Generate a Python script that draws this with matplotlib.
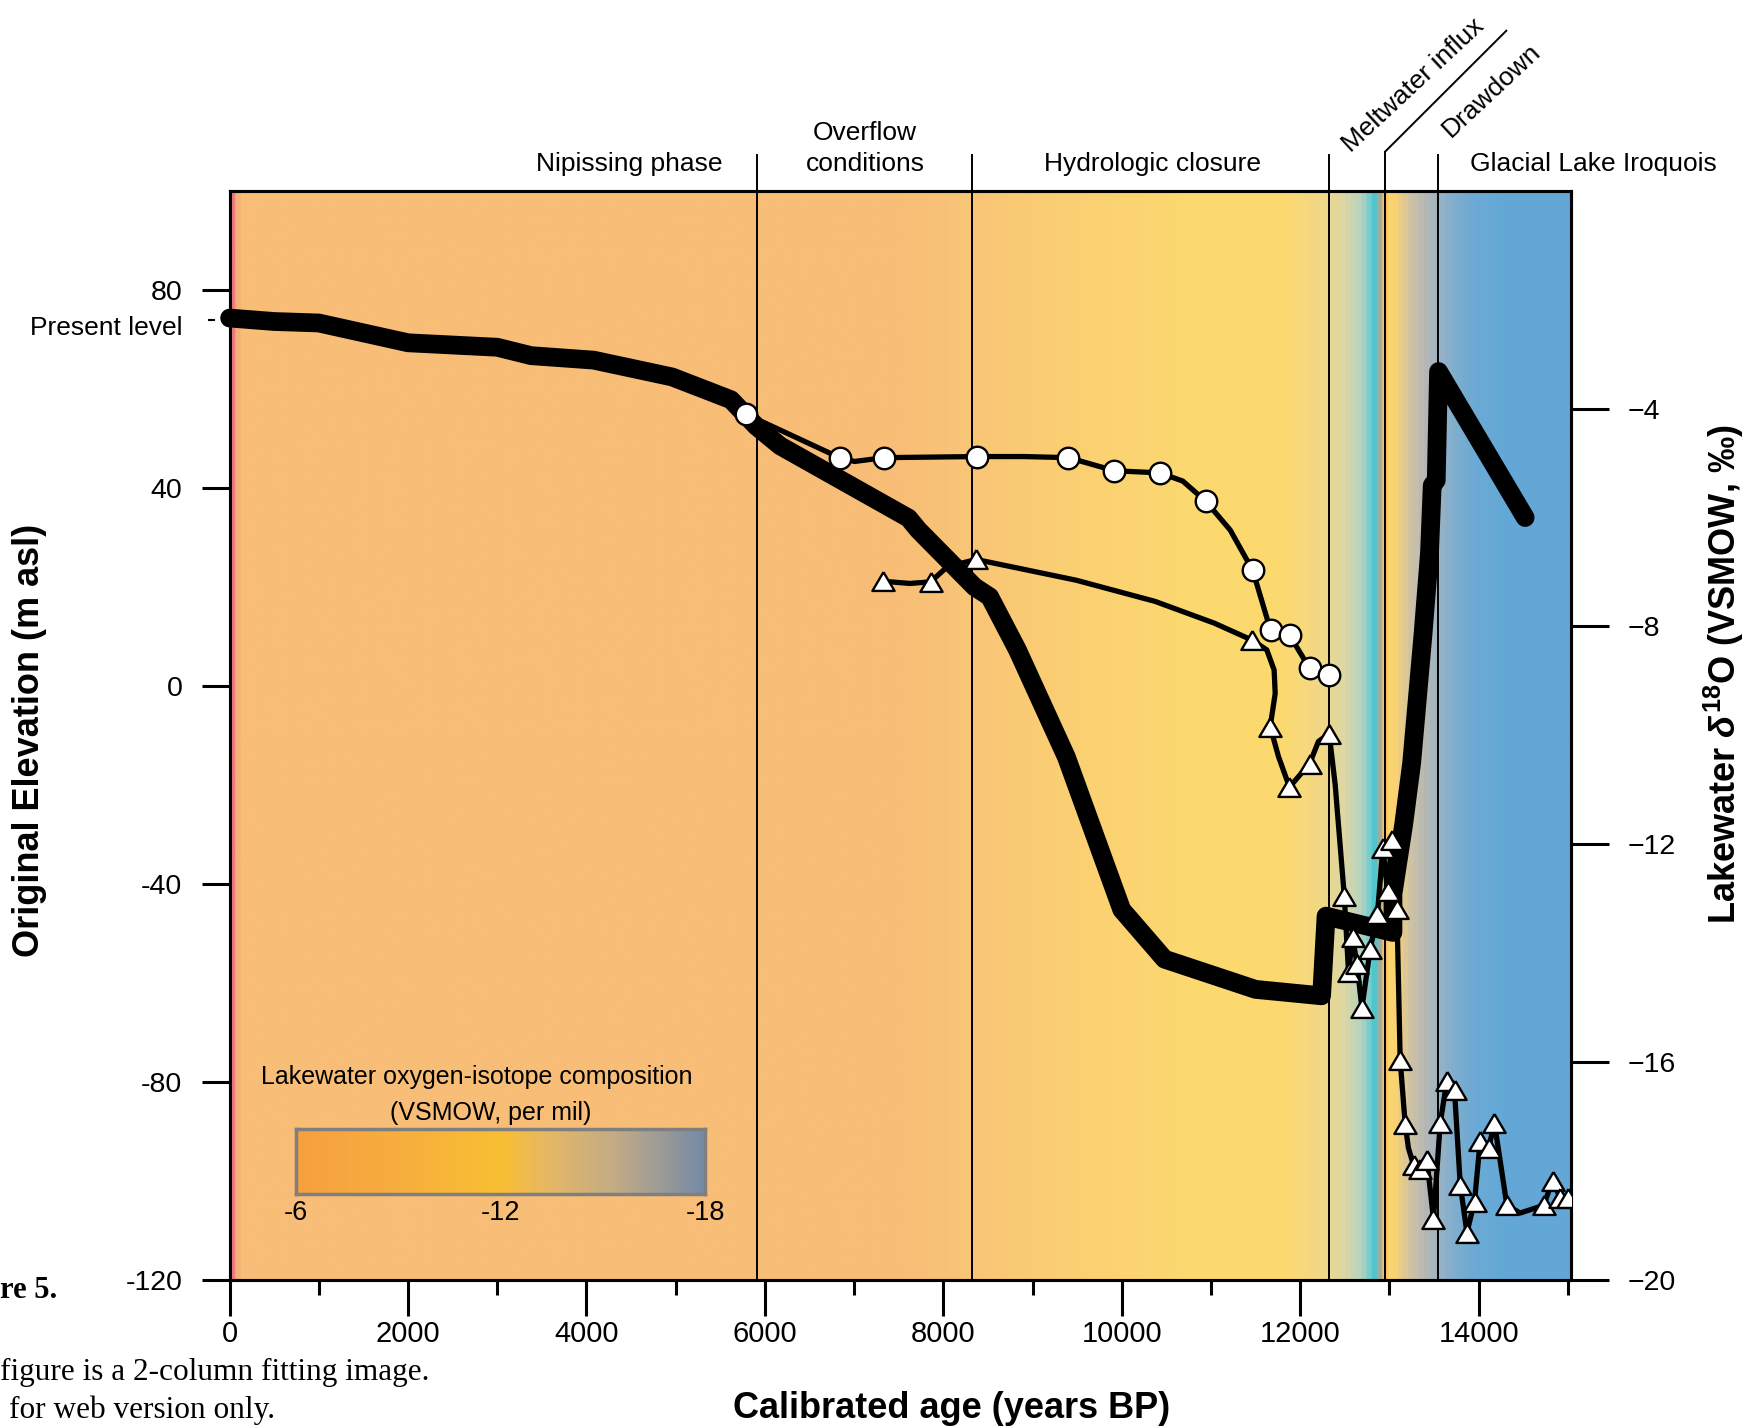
import numpy as np
import matplotlib
matplotlib.use('Agg')
import matplotlib.pyplot as plt
from matplotlib.colors import LinearSegmentedColormap

plt.rcParams['font.family'] = ['Liberation Sans', 'DejaVu Sans']
plt.rcParams['mathtext.fontset'] = 'custom'
plt.rcParams['mathtext.rm'] = 'Liberation Sans:bold'
plt.rcParams['mathtext.it'] = 'Liberation Sans:italic:bold'
plt.rcParams['mathtext.bf'] = 'Liberation Sans:bold'

# ---------------- data ----------------
# Lake level (thick line), original elevation (m asl)
level_age = [0, 500, 1000, 2000, 3000, 3380, 4080, 4960, 5620, 5900, 6170, 7610, 7720,
             8350, 8520, 8830, 9380, 10000, 10480, 11500, 12240, 12290, 13040, 13040,
             13160, 13250, 13375, 13450, 13480, 13525, 13551, 14522]
level_elev = [74.3, 73.6, 73.3, 69.3, 68.4, 66.7, 65.8, 62.4, 57.8, 52.5, 48.5, 33.9, 31.5,
              20.0, 18.0, 7.3, -14.4, -45.2, -55.2, -61.3, -62.6, -46.5, -49.8, -42.0,
              -28.0, -15.5, 10.0, 27.0, 40.5, 41.5, 63.5, 34.0]

# Lakewater d18O, circles (measured points)
circ_age = [5786, 6837, 7338, 8376, 9403, 9916, 10429, 10942, 11468, 11668, 11881, 12106, 12319]
circ_d18o = [-4.10, -4.90, -4.90, -4.88, -4.90, -5.14, -5.18, -5.70, -6.97, -8.07, -8.16, -8.77, -8.89]
# connecting curve through the circles
circ_line_age = [5786, 6837, 7005, 7338, 8376, 8900, 9403, 9916, 10429, 10684, 10942, 11216,
                 11468, 11668, 11881, 12106, 12319]
circ_line_d18o = [-4.10, -4.90, -4.97, -4.90, -4.88, -4.88, -4.90, -5.14, -5.18, -5.33, -5.70,
                  -6.23, -6.97, -8.07, -8.16, -8.77, -8.89]

# Lakewater d18O, triangles (measured points)
tri_age = [7329, 7857, 8370, 11460, 11664, 11880, 12105, 12325, 12494, 12542, 12587, 12636,
           12692, 12785, 12866, 12927, 12979, 13028, 13084, 13121, 13177, 13271, 13346, 13420,
           13494, 13570, 13644, 13730, 13794, 13869, 13954, 14018, 14111, 14178, 14317, 14728,
           14829, 14915, 14997]
tri_d18o = [-7.17, -7.18, -6.77, -8.25, -9.84, -10.95, -10.52, -9.97, -12.94, -14.35, -13.70,
            -14.19, -15.01, -13.92, -13.28, -12.07, -12.85, -11.92, -13.18, -15.96, -17.14,
            -17.89, -17.96, -17.79, -18.88, -17.12, -16.34, -16.52, -18.25, -19.13, -18.56,
            -17.44, -17.58, -17.12, -18.63, -18.63, -18.18, -18.49, -18.49]
# connecting curve through the triangles
tri_line_age = [7329, 7626, 7857, 8047, 8370, 9488, 10375, 11039, 11460, 11626, 11708, 11720,
                11664, 11757, 11880, 12105, 12205, 12325, 12392, 12494, 12542, 12587, 12636,
                12692, 12785, 12866, 12927, 12979, 13028, 13084, 13121, 13177, 13214, 13271,
                13346, 13420, 13494, 13570, 13644, 13730, 13794, 13869, 13954, 14018, 14111,
                14178, 14317, 14466, 14728, 14829, 14915, 14997]
tri_line_d18o = [-7.17, -7.21, -7.18, -6.90, -6.77, -7.15, -7.54, -7.94, -8.25, -8.43, -8.80,
                 -9.23, -9.84, -10.39, -10.95, -10.52, -10.11, -9.97, -10.90, -12.94, -14.35,
                 -13.70, -14.19, -15.01, -13.92, -13.28, -12.07, -12.85, -11.92, -13.18,
                 -15.96, -17.14, -17.58, -17.89, -17.96, -17.79, -18.88, -17.12, -16.34,
                 -16.52, -18.25, -19.13, -18.56, -17.44, -17.58, -17.12, -18.63, -18.77,
                 -18.63, -18.18, -18.49, -18.49]

# phase boundaries (years BP)
phase_bounds = [5906, 8326, 12320, 12953, 13540]

# background: lakewater isotope shading along the age axis
bg_age = [0, 45, 90, 7500, 8400, 9500, 10800, 11800, 12250, 12500, 12700, 12820, 12850,
          12880, 12905, 12925, 12950, 13000, 13080, 13250, 13450, 13550, 13700, 13950,
          14300, 15030]
bg_color = ['#EE7C80', '#F6AC7A', '#F8BD77', '#F8BE77', '#F9C676', '#FBD073', '#FCD970',
            '#FDDA6F', '#F2D886', '#DDD7A2', '#B7D4C0', '#62CCD2', '#4DC6CC', '#78B3B4',
            '#8FB0AC', '#F1A35E', '#F6B565', '#FDD56E', '#FBD371', '#CFC3A6', '#B1B6B6',
            '#A1B4C2', '#86AFCC', '#6DAAD4', '#64A8D7', '#63A7D6']

# legend colour bar
legend_vals = [-6, -12, -18]
legend_pos = [0.0, 0.25, 0.5, 0.62, 0.78, 0.9, 1.0]
legend_colors = ['#F6A03F', '#F7AE3E', '#F9BF33', '#E4B766', '#C2AB86', '#9A9A99', '#7389A6']

x_ticks = [0, 2000, 4000, 6000, 8000, 10000, 12000, 14000]
x_minor = [1000, 3000, 5000, 7000, 9000, 11000, 13000, 15000]
elev_ticks = [80, 40, 0, -40, -80, -120]
elev_tick_labels = ['80', '40', '0', '-40', '-80', '-120']
d18o_ticks = [-4, -8, -12, -16, -20]
d18o_tick_labels = ['\u22124', '\u22128', '\u221212', '\u221216', '\u221220']
present_level = 74

# ---------------- figure ----------------
W, H = 1750, 1428
fig = plt.figure(figsize=(17.5, 14.28), dpi=100)


def fx(X):
    return X / W


def fy(Y):
    return 1 - Y / H


L, R, T, B = 229.6, 1570.5, 190.8, 1280.0
XMAX = 15030
ax = fig.add_axes([fx(L), fy(B), (R - L) / W, (B - T) / H])

bg_cmap = LinearSegmentedColormap.from_list(
    'bg', list(zip(np.array(bg_age) / XMAX, bg_color)))
ax.imshow(np.linspace(0, 1, 3006)[None, :], cmap=bg_cmap, aspect='auto',
          extent=[0, XMAX, -120, 100], interpolation='bilinear', zorder=0)

ax2 = ax.twinx()

xt = ax.get_xaxis_transform()
for xb in phase_bounds:
    ax.axvline(xb, color='k', lw=1.4, zorder=1)
    top = 1.036 if xb == 12953 else 1.033
    ax.plot([xb, xb], [1.0, top], transform=xt, color='k', lw=1.4, clip_on=False)
ax.plot([12953, 14311], [1.036, 1.147], transform=xt, color='k', lw=1.4, clip_on=False)

# present-level tick
ax.plot([-230, -170], [present_level, present_level], color='k', lw=1.5, clip_on=False)

# isotope curves
ax2.plot(circ_line_age, circ_line_d18o, color='k', lw=3.8, zorder=2,
         solid_joinstyle='round')
ax2.plot(tri_line_age, tri_line_d18o, color='k', lw=3.8, zorder=2,
         solid_joinstyle='round')
# lake level
ax2.plot(level_age, level_elev, transform=ax.transData, color='k', lw=13.5,
         solid_joinstyle='round', solid_capstyle='round', zorder=3, clip_on=False)
# markers
tri_marker = [(0, 0.85), (-1, -0.85), (1, -0.85), (0, 0.85)]
ax2.plot(tri_age, tri_d18o, ls='none', marker=tri_marker, ms=16, mfc='white', mec='k',
         mew=1.7, zorder=5)
ax2.plot(circ_age, circ_d18o, ls='none', marker='o', ms=15.5, mfc='white', mec='k',
         mew=1.7, zorder=5)

ax.set_xlim(0, XMAX)
ax.set_ylim(-120, 100)
ax2.set_xlim(0, XMAX)
ax2.set_ylim(-20, 0)

ax.set_xticks(x_ticks)
ax.set_xticklabels([str(v) for v in x_ticks])
ax.set_xticks(x_minor, minor=True)
ax.tick_params(axis='x', which='major', direction='out', length=26, width=2.2,
               labelsize=21, pad=3)
ax.tick_params(axis='x', which='minor', direction='out', length=11, width=2.2)
ax.set_yticks(elev_ticks)
ax.set_yticklabels(elev_tick_labels)
ax.tick_params(axis='y', direction='out', length=20, width=2.2, labelsize=20.5, pad=14)
ax2.set_yticks(d18o_ticks)
ax2.set_yticklabels(d18o_tick_labels)
ax2.tick_params(axis='y', direction='out', length=27, width=2.2, labelsize=20.5, pad=14)
for a in (ax, ax2):
    for s in a.spines.values():
        s.set_linewidth(2.2)

# axis titles
fig.text(fx(952), fy(1408), 'Calibrated age (years BP)', ha='center', va='center',
         fontsize=26, fontweight='bold')
fig.text(fx(30), fy(740), 'Original Elevation (m asl)', ha='center', va='center',
         rotation=90, fontsize=26, fontweight='bold')
fig.text(fx(1724), fy(674), r'Lakewater $\delta^{\mathrm{18}}$O (VSMOW, ‰)', ha='center',
         va='center', rotation=90, fontsize=26, fontweight='bold')

# phase labels
fig.text(fx(629), fy(171.5), 'Nipissing phase', ha='center', va='baseline', fontsize=19)
fig.text(fx(865), fy(139.5), 'Overflow', ha='center', va='baseline', fontsize=19)
fig.text(fx(865), fy(171), 'conditions', ha='center', va='baseline', fontsize=19)
fig.text(fx(1152), fy(171), 'Hydrologic closure', ha='center', va='baseline', fontsize=19)
fig.text(fx(1593), fy(171), 'Glacial Lake Iroquois', ha='center', va='baseline', fontsize=19)
fig.text(fx(1413), fy(85), 'Meltwater influx', ha='center', va='center', rotation=43,
         rotation_mode='anchor', fontsize=19)
fig.text(fx(1492), fy(90), 'Drawdown', ha='center', va='center', rotation=43,
         rotation_mode='anchor', fontsize=19)
fig.text(fx(183), fy(335), 'Present level', ha='right', va='baseline', fontsize=19)

# legend colour bar
leg_cmap = LinearSegmentedColormap.from_list('leg', list(zip(legend_pos, legend_colors)))
cax = fig.add_axes([fx(295.7), fy(1194.1), (705.3 - 295.7) / W, (1194.1 - 1129.4) / H])
cax.imshow(np.linspace(0, 1, 512)[None, :], cmap=leg_cmap, aspect='auto',
           extent=[legend_vals[0], legend_vals[-1], 0, 1], interpolation='bilinear')
cax.set_xlim(legend_vals[0], legend_vals[-1])
cax.set_ylim(0, 1)
cax.set_yticks([])
cax.set_xticks(legend_vals)
cax.set_xticklabels([str(v) for v in legend_vals])
cax.tick_params(axis='x', length=0, labelsize=19.5, pad=4)
for lbl, dx in zip(cax.get_xticklabels(), [-4, -10, -7]):
    lbl.set_x(lbl.get_position()[0])
for s in cax.spines.values():
    s.set_color('#7F7F7F')
    s.set_linewidth(2.5)
fig.text(fx(477), fy(1077), 'Lakewater oxygen-isotope composition', ha='center',
         va='center', fontsize=18)
fig.text(fx(491), fy(1112.6), '(VSMOW, per mil)', ha='center', va='center', fontsize=18)

# page caption fragments
fig.text(fx(0), fy(1298), 're 5.', ha='left', va='baseline', fontsize=22,
         family='Liberation Serif', fontweight='bold')
fig.text(fx(0), fy(1380), 'figure is a 2-column fitting image.', ha='left', va='baseline',
         fontsize=22.5, family='Liberation Serif')
fig.text(fx(9), fy(1418), 'for web version only.', ha='left', va='baseline',
         fontsize=22.5, family='Liberation Serif')

fig.savefig('out.png', dpi=100)
